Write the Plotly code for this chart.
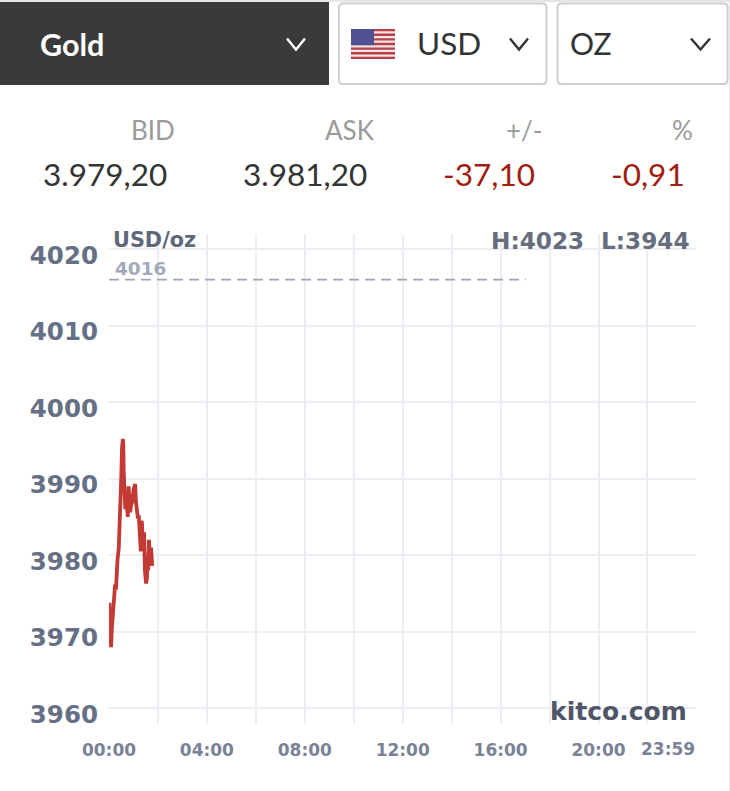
import plotly.graph_objects as go

# Gold spot price, intraday session (minutes after midnight, USD/oz)
minutes = [0, 1, 2, 3, 5, 7, 10, 13, 15, 17, 19, 21, 24, 27, 30, 32, 34, 35, 36, 38, 40, 42, 44, 46,
           48, 50, 52, 54, 57, 60, 64, 66, 69, 71, 73, 75, 77, 78, 80, 81, 83, 86, 88, 91, 93, 94,
           96, 98, 100, 103, 106]
prices = [3971.5, 3973.8, 3971.0, 3969.5, 3968.0, 3970.5, 3972.6, 3974.5, 3976.2, 3975.5, 3978.0,
          3979.5, 3981.0, 3984.6, 3990.0, 3994.0, 3995.2, 3994.5, 3991.0, 3989.0, 3986.0, 3988.0,
          3985.6, 3985.0, 3989.0, 3987.0, 3985.6, 3986.5, 3987.0, 3988.5, 3989.3, 3987.0, 3985.0,
          3984.8, 3985.2, 3983.0, 3981.0, 3980.5, 3984.5, 3984.0, 3981.0, 3983.0, 3978.0, 3976.3,
          3977.0, 3980.0, 3978.0, 3982.0, 3980.0, 3981.0, 3978.6]

previous_close = 4016
previous_close_span = [0, 1022]

price_ticks = [3960, 3970, 3980, 3990, 4000, 4010, 4020]
time_ticks = [0, 120, 240, 360, 480, 600, 720, 840, 960, 1080, 1200, 1320, 1439]
time_labels = ["00:00", "", "04:00", "", "08:00", "", "12:00", "", "16:00", "", "20:00", "", ""]

bid_ask_headers = ["BID", "ASK", "+/-", "%"]
bid_ask_values = ["3.979,20", "3.981,20", "-37,10", "-0,91"]

WIDTH, HEIGHT = 730, 791
UI_FONT = "Lato, 'Noto Sans', sans-serif"
CHART_FONT = "'DejaVu Sans', sans-serif"


def px(x):
    return x / WIDTH


def py(y):
    return 1 - y / HEIGHT


def rect(x0, y0, x1, y1, fill, line=None):
    return dict(type="rect", xref="paper", yref="paper", layer="below",
                x0=px(x0), x1=px(x1), y0=py(y1), y1=py(y0), fillcolor=fill,
                line=dict(color=line or fill, width=2 if line else 0))


def rounded_box(x0, y0, x1, y1, r=4):
    a, b, c, d = px(x0), px(x1), py(y0), py(y1)
    rx, ry = r / WIDTH, r / HEIGHT
    path = (f"M{a + rx},{c} L{b - rx},{c} Q{b},{c} {b},{c - ry} L{b},{d + ry} Q{b},{d} {b - rx},{d} "
            f"L{a + rx},{d} Q{a},{d} {a},{d + ry} L{a},{c - ry} Q{a},{c} {a + rx},{c} Z")
    return dict(type="path", xref="paper", yref="paper", path=path, layer="below",
                fillcolor="#ffffff", line=dict(color="#cfcfcf", width=2))


def chevron(x0, x1, y0, y1, color):
    mid = (x0 + x1) / 2
    path = f"M{px(x0)},{py(y0)} L{px(mid)},{py(y1)} L{px(x1)},{py(y0)}"
    return dict(type="path", xref="paper", yref="paper", path=path,
                line=dict(color=color, width=2.4))


def label(text, x, y, size, color, anchor="left", family=UI_FONT, weight=400):
    return dict(text=text, x=px(x), y=py(y), xref="paper", yref="paper", showarrow=False,
                xanchor=anchor, yanchor="middle", borderpad=0, borderwidth=0,
                font=dict(size=size, color=color, family=family, weight=weight))


shapes = [
    rect(0, 0, 730, 2, "#e4e5ea"),
    rect(729, 0, 730, 791, "#e4e5ea"),
    rect(0, 2, 329, 85, "#3a3a3a"),
    rounded_box(339, 3.5, 546.5, 84),
    rounded_box(557.5, 3.5, 727.5, 84),
    chevron(287, 305, 38.5, 49.5, "#ffffff"),
    chevron(510, 528, 38.5, 49.5, "#333333"),
    chevron(691, 710, 38.5, 49.5, "#333333"),
]

# US flag next to the currency selector
flag_x0, flag_x1, flag_y0, flag_y1 = 351, 395, 29, 59
stripe_h = (flag_y1 - flag_y0) / 13
shapes.append(rect(flag_x0, flag_y0, flag_x1, flag_y1, "#f4e6e6"))
for i in range(0, 13, 2):
    shapes.append(rect(flag_x0, flag_y0 + i * stripe_h, flag_x1,
                       flag_y0 + (i + 1) * stripe_h, "#b5404a"))
shapes.append(rect(flag_x0, flag_y0, 374, flag_y0 + 7 * stripe_h, "#4f5192"))

annotations = [
    label("Gold", 40, 44, 30.5, "#ffffff", weight=700),
    label("USD", 416.5, 43.5, 31.5, "#333333"),
    label("OZ", 570, 43.5, 30, "#333333"),
]
for text, x in zip(bid_ask_headers, [175, 375, 543, 693]):
    annotations.append(label(text, x, 130, 26, "#9a9a9a", "right"))
for text, x, color in zip(bid_ask_values, [166.5, 366.5, 535, 685],
                          ["#333333", "#333333", "#a11d10", "#a11d10"]):
    annotations.append(label(text, x, 173.5, 31.5, color, "right"))

annotations += [
    label("USD/oz", 113, 240, 20.8, "#5f677b", family=CHART_FONT, weight=700),
    label(str(previous_close), 114.5, 268.5, 18.5, "#a3a9bb", family=CHART_FONT, weight=700),
    label("H:4023", 491, 240, 23.2, "#666d7d", family=CHART_FONT, weight=700),
    label("L:3944", 601, 240, 23.2, "#666d7d", family=CHART_FONT, weight=700),
    label("kitco.com", 687, 711, 25, "#4f5668", "right", family=CHART_FONT, weight=700),
    label("23:59", 695, 749, 17, "#7a8296", "right", family=CHART_FONT, weight=700),
]

fig = go.Figure()
fig.add_trace(go.Scatter(x=previous_close_span, y=[previous_close, previous_close], mode="lines",
                         line=dict(color="#a0a6b4", width=1.6, dash="10px,6px"),
                         hoverinfo="skip"))
fig.add_trace(go.Scatter(x=minutes, y=prices, mode="lines", cliponaxis=False,
                         line=dict(color="#c23a33", width=3.8)))

fig.update_layout(
    width=WIDTH, height=HEIGHT, margin=dict(l=0, r=0, t=0, b=0),
    paper_bgcolor="#ffffff", plot_bgcolor="#ffffff", showlegend=False,
    shapes=shapes, annotations=annotations,
)
fig.update_xaxes(
    domain=[px(109), px(696)], range=[0, 1439], tickmode="array", automargin=False,
    tickvals=time_ticks, ticktext=time_labels, tickangle=0, ticks="",
    showgrid=True, gridcolor="#eceef4", gridwidth=2, zeroline=False, showline=False,
    ticklabelstandoff=14,
    tickfont=dict(family=CHART_FONT, size=17, color="#7a8296", weight=700),
)
fig.update_yaxes(
    domain=[py(724), py(234)], range=[3957.95, 4021.96], tickmode="array", automargin=False,
    tickvals=price_ticks, ticks="", showgrid=True, gridcolor="#eceef4", gridwidth=2,
    zeroline=False, showline=False, ticklabelstandoff=10, ticklabelshift=6,
    tickfont=dict(family=CHART_FONT, size=24.5, color="#667085", weight=700),
)

fig.write_html("out.html", config=dict(displayModeBar=False))
